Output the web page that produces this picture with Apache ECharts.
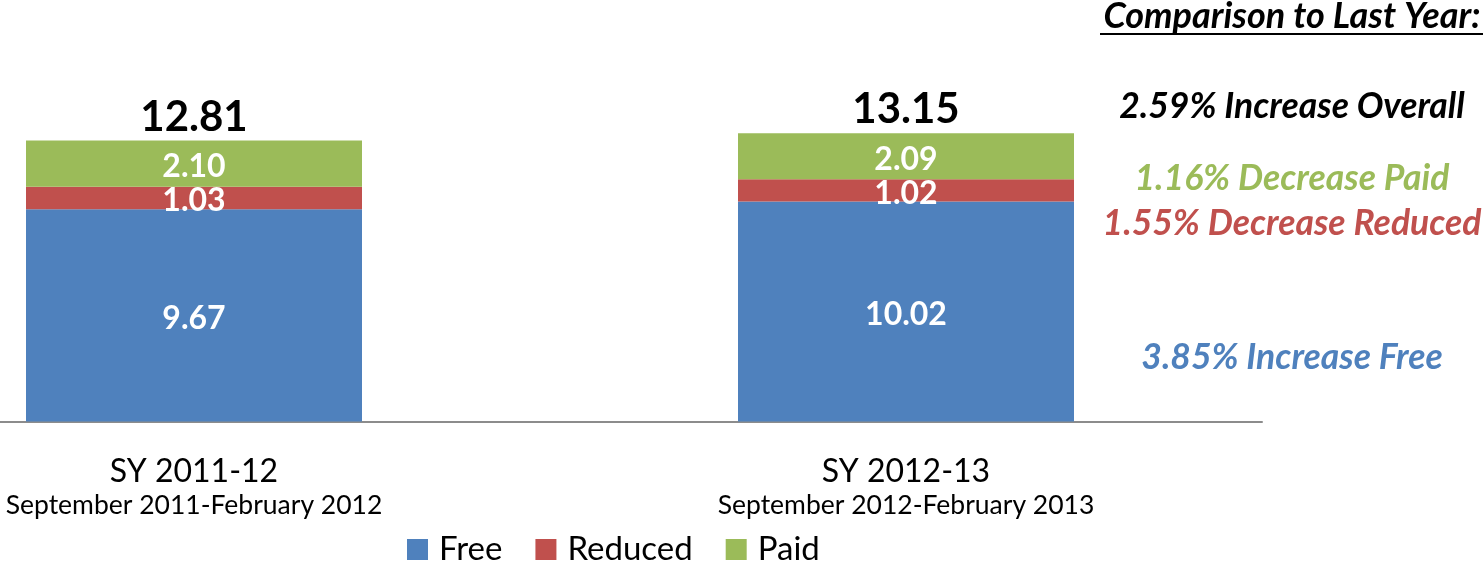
<!DOCTYPE html>
<html>
<head>
<meta charset="utf-8">
<script src="https://cdn.jsdelivr.net/npm/echarts@6/dist/echarts.min.js"></script>
<style>html,body{margin:0;padding:0;background:#fff;}#c{width:1483px;height:562px;}</style>
</head>
<body>
<div id="c"></div>
<script>
const categories = ['SY 2011-12', 'SY 2012-13'];
const subtitles = ['September 2011-February 2012', 'September 2012-February 2013'];
const freeVals = [9.67, 10.02];
const reducedVals = [1.03, 1.02];
const paidVals = [2.10, 2.09];
const totals = [12.81, 13.15];
const comparisonTitle = 'Comparison to Last Year:';
const comparisonLines = [
  {text: '2.59% Increase Overall', color: '#000000', y: 107},
  {text: '1.16% Decrease Paid', color: '#9BBB59', y: 179},
  {text: '1.55% Decrease Reduced', color: '#C0504D', y: 224},
  {text: '3.85% Increase Free', color: '#4F81BD', y: 358}
];

const FONT = 'Lato';
const chart = echarts.init(document.getElementById('c'));
const barW = 336;
const inLabel = {show: true, position: 'inside', offset: [0, 3], color: '#fff', fontFamily: FONT, fontWeight: 'bold', fontSize: 32,
  formatter: p => p.value.toFixed(2)};

const graphics = [{
  type: 'text', x: 1292, y: 16,
  style: {text: comparisonTitle, fontFamily: FONT, fontWeight: 'bold', fontStyle: 'italic', fontSize: 36,
    fill: '#000', textAlign: 'center', textVerticalAlign: 'middle'}
}, {
  type: 'line', shape: {x1: 1100, y1: 34, x2: 1483, y2: 34}, style: {stroke: '#000', lineWidth: 2}
}];
comparisonLines.forEach(l => graphics.push({
  type: 'text', x: 1292, y: l.y,
  style: {text: l.text, fontFamily: FONT, fontWeight: 'bold', fontStyle: 'italic', fontSize: 35.5,
    fill: l.color, textAlign: 'center', textVerticalAlign: 'middle'}
}));

chart.setOption({
  animation: false,
  grid: {left: -162, width: 1424, bottom: 140.5, top: 70.3, outerBoundsMode: 'none', containLabel: false},
  legend: {
    data: ['Free', 'Reduced', 'Paid'], left: 407, top: 533, padding: 0, itemWidth: 21, itemHeight: 21, itemGap: 33,
    icon: 'rect',
    textStyle: {fontFamily: FONT, fontSize: 33, color: '#000', padding: [0, 0, 0, 6]}
  },
  xAxis: {
    type: 'category', data: categories,
    axisLine: {lineStyle: {color: '#8c8c8c', width: 2}},
    axisTick: {show: false},
    axisLabel: {
      margin: 32, interval: 0,
      formatter: (v, i) => '{a|' + v + '}\n{b|' + subtitles[i] + '}',
      rich: {
        a: {fontFamily: FONT, fontSize: 32, lineHeight: 36, color: '#000'},
        b: {fontFamily: FONT, fontSize: 26.5, lineHeight: 32, color: '#000'}
      }
    }
  },
  yAxis: {type: 'value', min: 0, max: 16, show: false, splitLine: {show: false}},
  series: [
    {name: 'Free', type: 'bar', stack: 's', data: freeVals, barWidth: barW, itemStyle: {color: '#4F81BD'}, label: inLabel},
    {name: 'Reduced', type: 'bar', stack: 's', data: reducedVals, barWidth: barW, itemStyle: {color: '#C0504D'}, label: inLabel},
    {name: 'Paid', type: 'bar', stack: 's', data: paidVals, barWidth: barW, itemStyle: {color: '#9BBB59'}, label: inLabel},
    {name: 'Total', type: 'bar', data: totals, barWidth: barW, barGap: '-100%', z: 1,
      itemStyle: {color: 'rgba(0,0,0,0)'},
      label: {show: true, position: 'top', distance: 2, color: '#000', fontFamily: FONT, fontWeight: 'bold', fontSize: 42,
        formatter: p => p.value.toFixed(2)}}
  ],
  graphic: graphics
});
</script>
</body>
</html>
